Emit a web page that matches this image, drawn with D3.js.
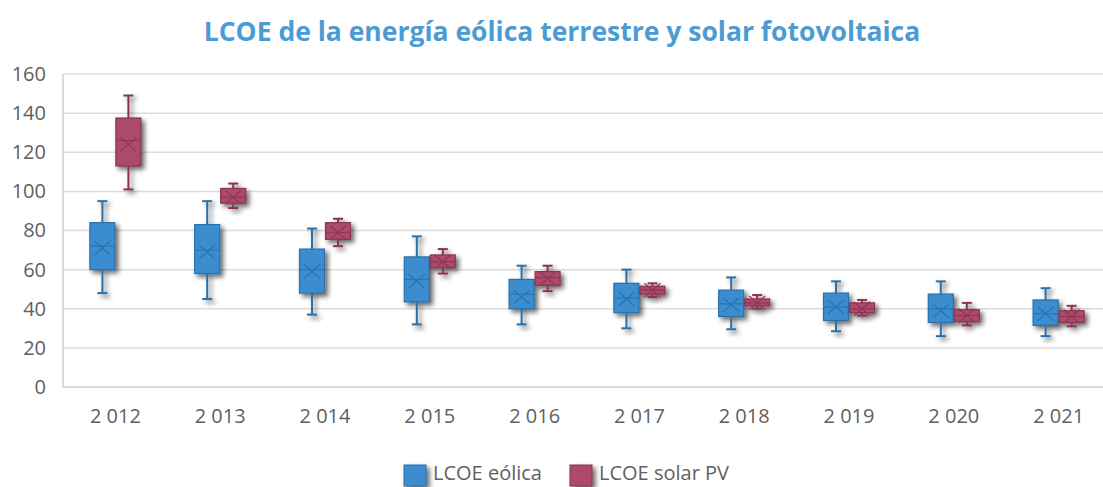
<!DOCTYPE html>
<html>
<head>
<meta charset="utf-8">
<script src="https://cdn.jsdelivr.net/npm/d3@7"></script>
<style>
  body { margin: 0; background: #fff; }
  svg { display: block; font-family: "Open Sans", "Noto Sans", sans-serif; }
</style>
</head>
<body>
<div id="chart"></div>
<script>
// Years on the x axis
const years = ["2 012", "2 013", "2 014", "2 015", "2 016", "2 017", "2 018", "2 019", "2 020", "2 021"];

// LCOE eólica: [min, q1, median, q3, max, mean]
const windStats = [
    [48, 60, 72, 84, 95, 71],
    [45, 58, 70, 83, 95, 69],
    [37, 48, 60, 70.5, 81, 59],
    [32, 43.5, 55, 66.5, 77, 54],
    [32, 40, 47.5, 55, 62, 46],
    [30, 38, 45.5, 53, 60, 45],
    [29.5, 36, 42.5, 49.5, 56, 42],
    [28.5, 34, 41, 48, 54, 41],
    [26, 33, 40, 47.5, 54, 39],
    [26, 31.5, 37.5, 44.5, 50.5, 37.5]
];

// LCOE solar PV: [min, q1, median, q3, max, mean]
const solarStats = [
    [101, 113, 126, 137.5, 149, 124],
    [91.5, 94, 97, 101.5, 104, 97],
    [72, 75.5, 79, 84, 86, 79],
    [58, 61, 64, 67.5, 70.5, 64],
    [49, 52, 56, 59, 62, 55.5],
    [46, 47.5, 49.5, 51.5, 53, 49.5],
    [40, 41.5, 43, 45, 47, 43],
    [36.5, 38, 40, 43, 44.5, 40],
    [31.5, 33.5, 36.5, 39.5, 43, 36.5],
    [31, 33, 36, 39, 41.5, 36]
];

const yTicks = [0, 20, 40, 60, 80, 100, 120, 140, 160];

const series = [
    { name: "LCOE eólica", stats: windStats, fill: "#3b8dd0", stroke: "#2a6fa8", inner: "#2c74b0", offset: -1 },
    { name: "LCOE solar PV", stats: solarStats, fill: "#ad4a6b", stroke: "#8a3352", inner: "#8f3757", offset: 1 }
];

const width = 1103, height = 487;
const margin = { top: 74, right: -8, bottom: 100, left: 63 };

const svg = d3.select("#chart").append("svg")
    .attr("width", width)
    .attr("height", height);

// Drop shadow filter
const defs = svg.append("defs");
const shadow = defs.append("filter")
    .attr("id", "shadow")
    .attr("x", "-50%").attr("y", "-50%")
    .attr("width", "200%").attr("height", "200%");
shadow.append("feGaussianBlur").attr("in", "SourceAlpha").attr("stdDeviation", 2.5);
shadow.append("feOffset").attr("dx", 3).attr("dy", 3).attr("result", "off");
shadow.append("feComponentTransfer").append("feFuncA").attr("type", "linear").attr("slope", 0.6);
const merge = shadow.append("feMerge");
merge.append("feMergeNode");
merge.append("feMergeNode").attr("in", "SourceGraphic");

const x = d3.scaleBand()
    .domain(years)
    .range([margin.left, width - margin.right]);

const y = d3.scaleLinear()
    .domain([0, 160])
    .range([height - margin.bottom, margin.top]);

// Title
svg.append("text")
    .attr("x", 562)
    .attr("y", 41)
    .attr("text-anchor", "middle")
    .attr("fill", "#4d9bd3")
    .style("font-size", "26.5px")
    .style("font-weight", "bold")
    .text("LCOE de la energía eólica terrestre y solar fotovoltaica");

// Gridlines
svg.append("g")
    .selectAll("line")
    .data(yTicks.slice(1))
    .join("line")
    .attr("x1", margin.left)
    .attr("x2", width)
    .attr("y1", d => y(d))
    .attr("y2", d => y(d))
    .attr("stroke", "#dcdcdc")
    .attr("stroke-width", 1.5);

// Axes lines
svg.append("line")
    .attr("x1", margin.left).attr("x2", width)
    .attr("y1", y(0)).attr("y2", y(0))
    .attr("stroke", "#cfcfcf").attr("stroke-width", 1.5);
svg.append("line")
    .attr("x1", margin.left).attr("x2", margin.left)
    .attr("y1", y(0)).attr("y2", y(160))
    .attr("stroke", "#cfcfcf").attr("stroke-width", 1.5);

// Y tick labels
const yAxis = svg.append("g")
    .attr("transform", `translate(${margin.left},0)`)
    .call(d3.axisLeft(y).tickValues(yTicks).tickSize(0).tickPadding(17));
yAxis.select(".domain").remove();
yAxis.selectAll("text")
    .attr("fill", "#5f5f5f")
    .style("font-size", "20px")
    .style("font-family", "'Open Sans', sans-serif");

// X tick labels
const xAxis = svg.append("g")
    .attr("transform", `translate(0,${y(0)})`)
    .call(d3.axisBottom(x).tickSize(0).tickPadding(22));
xAxis.select(".domain").remove();
xAxis.selectAll("text")
    .attr("fill", "#5f5f5f")
    .style("font-size", "20px")
    .style("font-family", "'Open Sans', sans-serif");

// Boxes
const boxW = 25;
const capW = 10;

series.forEach(s => {
    const g = svg.append("g").attr("filter", "url(#shadow)");
    s.stats.forEach((d, i) => {
        const [mn, q1, med, q3, mx, mean] = d;
        const c = x(years[i]) + x.bandwidth() / 2 + s.offset * (boxW / 2 + 0.5);
        const bx = g.append("g");

        // whiskers
        bx.append("line")
            .attr("x1", c).attr("x2", c)
            .attr("y1", y(mx)).attr("y2", y(q3))
            .attr("stroke", s.stroke).attr("stroke-width", 2);
        bx.append("line")
            .attr("x1", c).attr("x2", c)
            .attr("y1", y(q1)).attr("y2", y(mn))
            .attr("stroke", s.stroke).attr("stroke-width", 2);
        [mn, mx].forEach(v => {
            bx.append("line")
                .attr("x1", c - capW / 2).attr("x2", c + capW / 2)
                .attr("y1", y(v)).attr("y2", y(v))
                .attr("stroke", s.stroke).attr("stroke-width", 2);
        });

        // box
        bx.append("rect")
            .attr("x", c - boxW / 2)
            .attr("y", y(q3))
            .attr("width", boxW)
            .attr("height", y(q1) - y(q3))
            .attr("fill", s.fill)
            .attr("stroke", s.stroke)
            .attr("stroke-width", 1.2);

        // median line
        bx.append("line")
            .attr("x1", c - boxW / 2).attr("x2", c + boxW / 2)
            .attr("y1", y(med)).attr("y2", y(med))
            .attr("stroke", s.inner).attr("stroke-width", 1.3);

        // mean marker (x)
        const mx2 = 8, my2 = 7;
        bx.append("path")
            .attr("d", `M${c - mx2},${y(mean) - my2}L${c + mx2},${y(mean) + my2}M${c - mx2},${y(mean) + my2}L${c + mx2},${y(mean) - my2}`)
            .attr("stroke", s.inner).attr("stroke-width", 1.3).attr("fill", "none");
    });
});

// Legend
const legendItems = [
    { label: "LCOE eólica", x: 404, fill: "#3b8dd0", stroke: "#2a6fa8" },
    { label: "LCOE solar PV", x: 570, fill: "#ad4a6b", stroke: "#8a3352" }
];
const legend = svg.append("g");
legendItems.forEach(d => {
    legend.append("rect")
        .attr("x", d.x).attr("y", 465)
        .attr("width", 22).attr("height", 21)
        .attr("fill", d.fill).attr("stroke", d.stroke)
        .attr("filter", "url(#shadow)");
    legend.append("text")
        .attr("x", d.x + 29).attr("y", 480)
        .attr("fill", "#5f5f5f")
        .style("font-size", "20px")
        .text(d.label);
});
</script>
</body>
</html>
